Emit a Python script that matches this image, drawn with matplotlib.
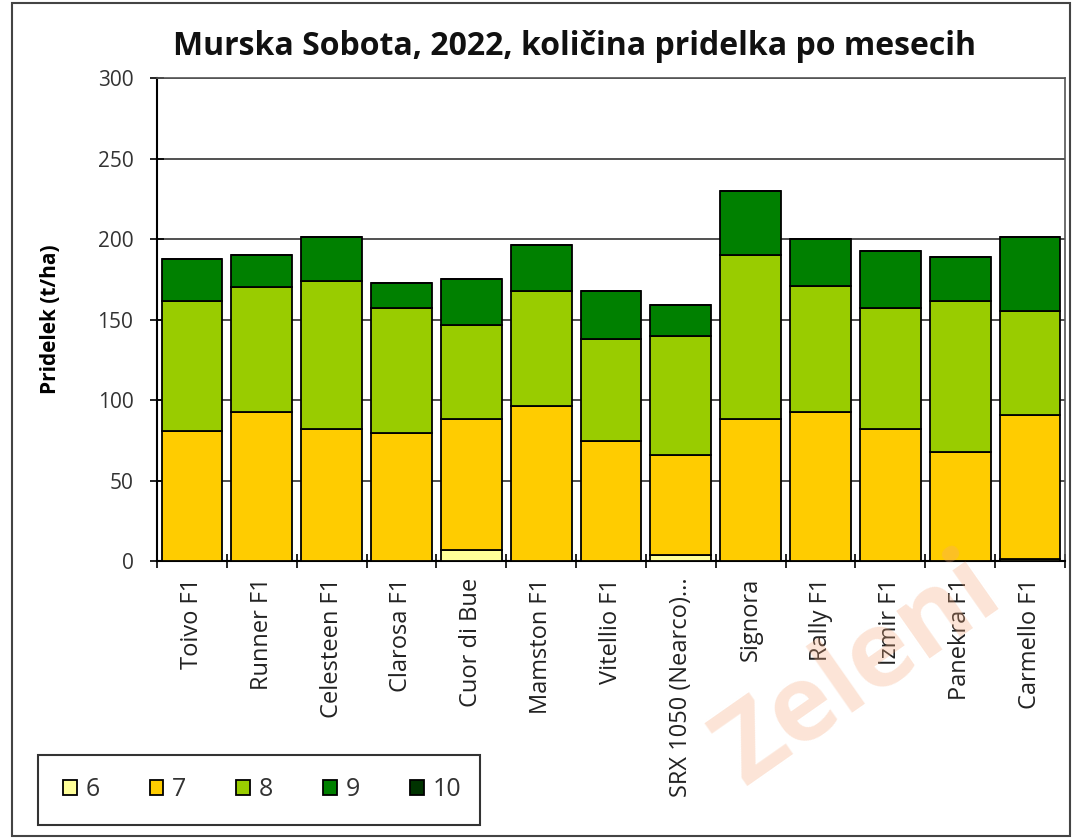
import numpy as np
import matplotlib
matplotlib.use("Agg")
import matplotlib.pyplot as plt
from matplotlib.patches import Rectangle

# sorte
sorte = ["Toivo F1", "Runner F1", "Celesteen F1", "Clarosa F1", "Cuor di Bue",
         "Mamston F1", "Vitellio F1", "SRX 1050 (Nearco)...", "Signora", "Rally F1",
         "Izmir F1", "Panekra F1", "Carmello F1"]

# pridelek po mesecih (t/ha)
m6 = [0, 0, 0, 0, 7, 0, 0, 4, 0, 0, 0, 0, 1]
m7 = [81, 92.5, 82, 79.5, 81, 96, 74.5, 62, 88, 92.5, 82, 68, 90]
m8 = [80.5, 77.5, 92, 77.5, 58.5, 72, 63.5, 74, 102, 78.5, 75, 93.5, 64]
m9 = [26, 20, 27, 15.5, 28.5, 28, 30, 19, 40, 29, 35.5, 27.5, 46]
m10 = [0, 0, 0, 0, 0, 0, 0, 0, 0, 0, 0, 0, 0]

meseci = ["6", "7", "8", "9", "10"]
barve = ["#FFFF99", "#FFCC00", "#99CC00", "#008000", "#003300"]

plt.rcParams['font.family'] = ['Open Sans', 'DejaVu Sans']

fig = plt.figure(figsize=(10.74, 8.39), dpi=100)

# vodni žig
fig.text(0.80, 0.20, "Zeleni", fontsize=76, fontweight="bold", color="#F5A77A",
         alpha=0.3, rotation=35, ha="center", va="center", zorder=0)

ax = fig.add_axes([0.1462, 0.3313, 0.8454, 0.5757])
ax.patch.set_alpha(0)

x = np.arange(len(sorte))
spodaj = np.zeros(len(sorte))
for vrednosti, ime, barva in zip([m6, m7, m8, m9, m10], meseci, barve):
    ax.bar(x, vrednosti, bottom=spodaj, width=0.87, color=barva,
           edgecolor="black", linewidth=1.3, label=ime, zorder=3)
    spodaj += np.array(vrednosti)

ax.set_xlim(-0.5, len(sorte) - 0.5)
ax.set_ylim(0, 300)
ax.set_yticks(np.arange(0, 301, 50))
ax.yaxis.grid(True, color="#333333", linewidth=1.2, zorder=0)
ax.set_axisbelow(True)

# kljukice na mejah kategorij
ax.set_xticks(np.arange(-0.5, len(sorte), 1.0))
ax.set_xticklabels([])
ax.set_xticks(x, minor=True)
ax.set_xticklabels(sorte, minor=True, rotation=90, fontsize=17, color="#222222")
ax.tick_params(axis="x", which="minor", length=0, pad=12)
ax.tick_params(axis="x", which="major", length=10, width=1.2, direction="inout")
ax.tick_params(axis="y", length=10, width=1.2, direction="inout", labelsize=15,
               labelcolor="#333333", pad=12)

for s in ["left", "bottom"]:
    ax.spines[s].set_linewidth(1.5)
for s in ["top", "right"]:
    ax.spines[s].set_linewidth(1.2)
    ax.spines[s].set_color("#555555")

ax.set_ylabel("Pridelek (t/ha)", fontsize=15, fontweight="bold", labelpad=26)
fig.text(0.535, 0.945, "Murska Sobota, 2022, količina pridelka po mesecih",
         ha="center", va="center", fontsize=23, fontweight="bold", color="#111111")

# legenda v okvirju
fig.patches.append(Rectangle((38 / 1074, 14 / 839), 442 / 1074, 70 / 839,
                             transform=fig.transFigure, fill=False,
                             edgecolor="#333333", linewidth=1.5))
leg = fig.legend(loc="center", bbox_to_anchor=(262 / 1074, 1 - 790 / 839), ncol=5,
                 fontsize=18, frameon=False, handlelength=0.55, handleheight=0.55,
                 columnspacing=2.0, handletextpad=0.35)
for t in leg.get_texts():
    t.set_color("#333333")

fig.patches.append(Rectangle((0.011, 0.004), 0.985, 0.992, transform=fig.transFigure,
                             fill=False, edgecolor="#444444", linewidth=1.5))

fig.savefig("out.png", dpi=100)
